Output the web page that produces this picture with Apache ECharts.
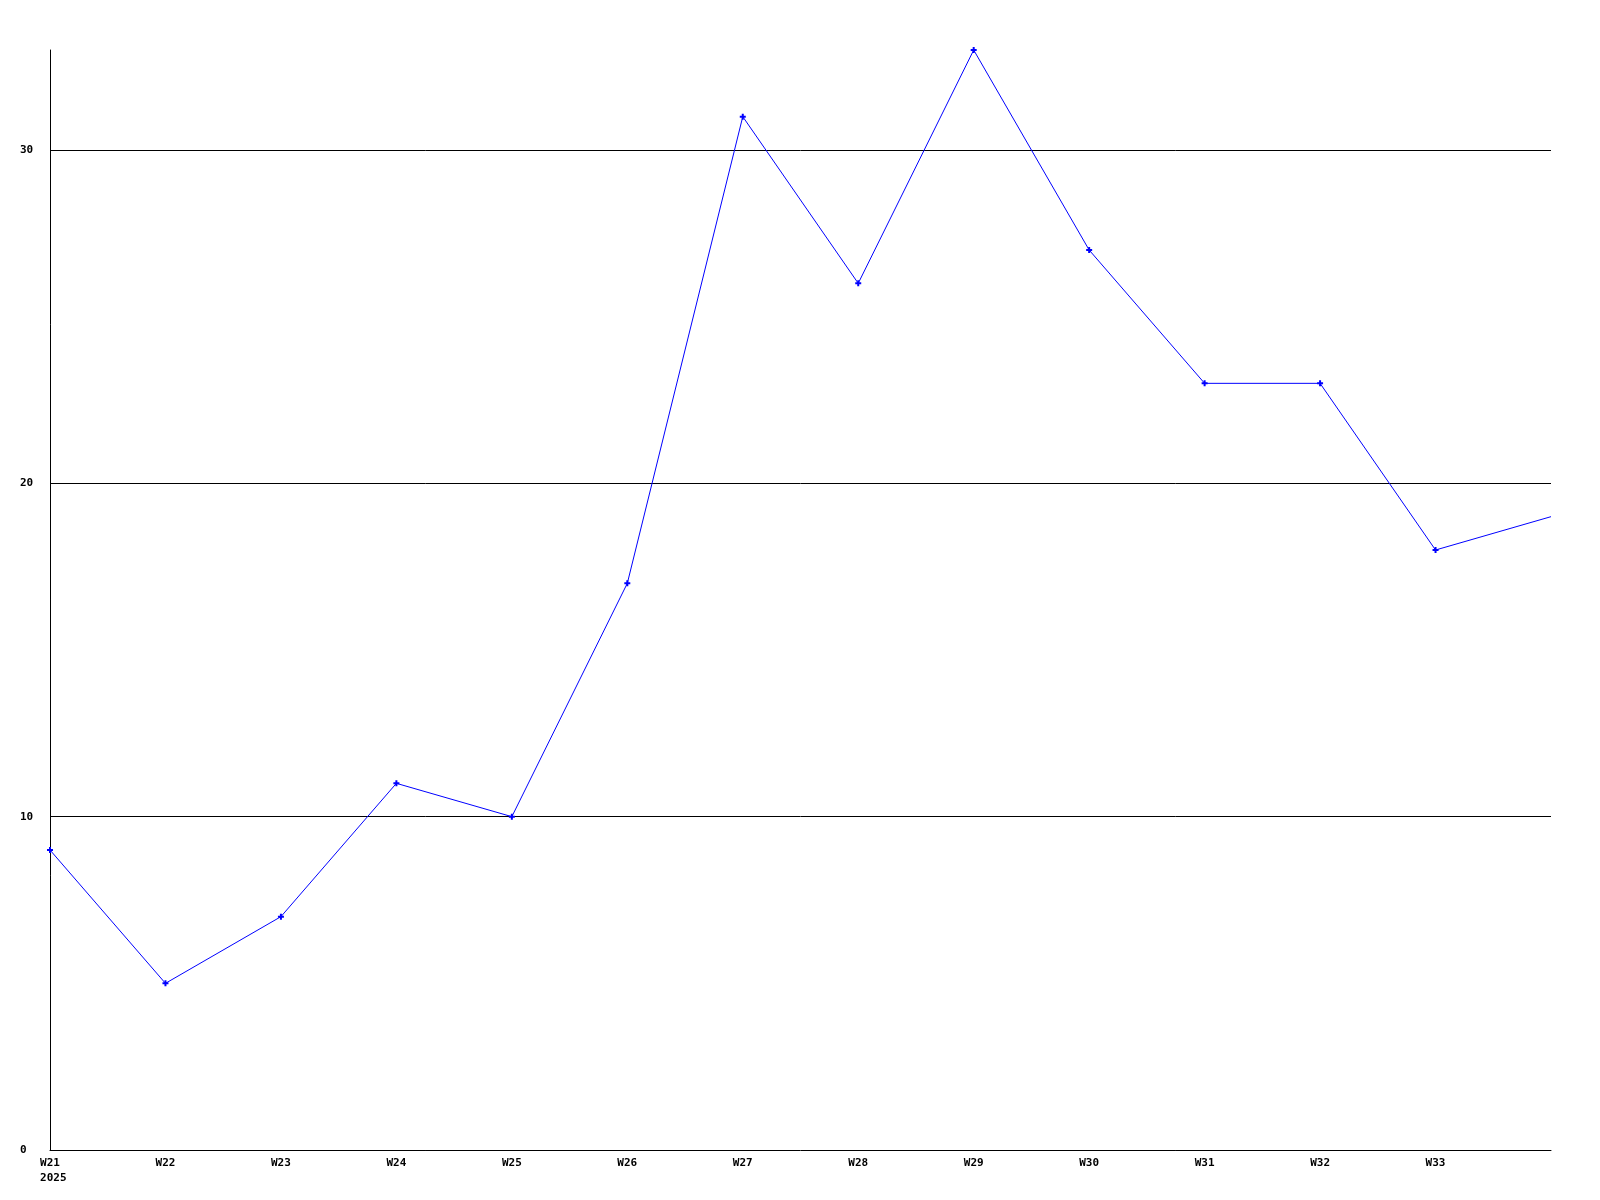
<!DOCTYPE html>
<html>
<head>
<meta charset="utf-8">
<script src="https://cdn.jsdelivr.net/npm/echarts@6/dist/echarts.min.js"></script>
<style>html,body{margin:0;padding:0;background:#fff;}#c{width:1600px;height:1200px;}</style>
</head>
<body>
<div id="c"></div>
<script>
const categories = ['W21','W22','W23','W24','W25','W26','W27','W28','W29','W30','W31','W32','W33','W34'];
const tickLabels = ['W21\n 2025','W22','W23','W24','W25','W26','W27','W28','W29','W30','W31','W32','W33',''];
const values = [9, 5, 7, 11, 10, 17, 31, 26, 33, 27, 23, 23, 18, 19];
const markedPoints = [true,true,true,true,true,true,true,true,true,true,true,true,true,false];

const chart = echarts.init(document.getElementById('c'), null, {renderer:'canvas'});
const font = {fontFamily:'DejaVu Sans Mono', fontWeight:'bold', fontSize:11, color:'#000'};
chart.setOption({
  animation:false,
  backgroundColor:'#fff',
  grid:{left:50, right:49, top:50, bottom:50, containLabel:false},
  xAxis:{
    type:'category', data:categories, boundaryGap:false,
    axisLine:{show:true, lineStyle:{color:'#000', width:1}},
    axisTick:{show:false},
    splitLine:{show:false},
    axisLabel:Object.assign({interval:0, margin:6, lineHeight:15, align:'center', verticalAlign:'top',
      formatter:(v, i) => tickLabels[i]}, font)
  },
  yAxis:{
    type:'value', min:0, max:33, interval:10,
    axisLine:{show:true, lineStyle:{color:'#000', width:1}},
    axisTick:{show:false},
    splitLine:{show:true, showMinLine:false, showMaxLine:false, lineStyle:{color:'#000', width:1}},
    axisLabel:Object.assign({margin:30, align:'left', showMaxLabel:false}, font)
  },
  series:[{
    type:'line',
    data: values.map((v,i)=>({value:v, symbolSize: markedPoints[i]?6:0})),
    symbol:'path://M2,0H4V2H6V4H4V6H2V4H0V2H2Z',
    showSymbol:true,
    lineStyle:{color:'#0000ff', width:1},
    itemStyle:{color:'#0000ff', borderWidth:0},
    z:5
  }]
});
</script>
</body>
</html>
